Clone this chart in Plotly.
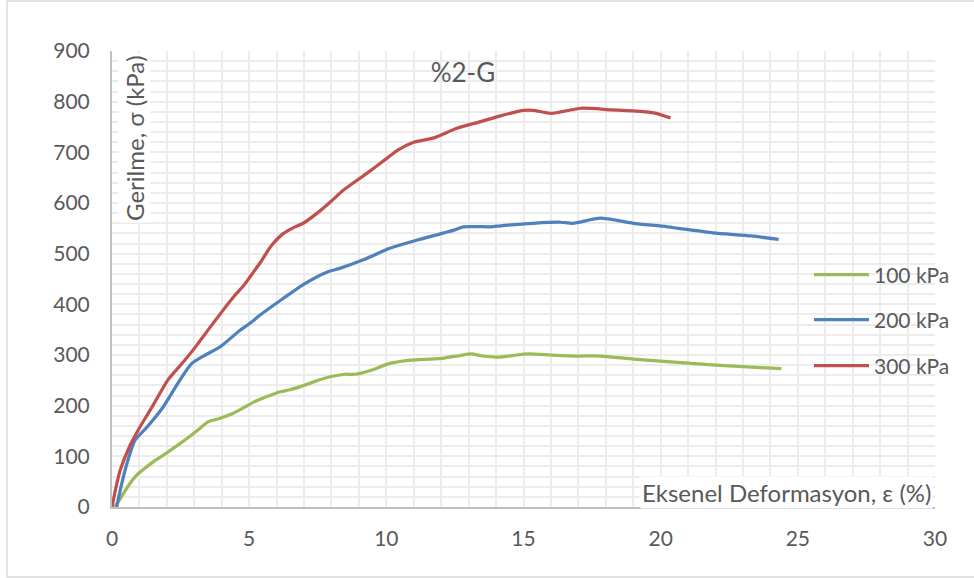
import plotly.graph_objects as go

# Axial strain (%) and deviator stress (kPa) for each confining pressure
strain_100 = [0.1, 0.3, 0.5, 0.66, 0.85, 1.0, 1.28, 1.6, 2.0, 2.4, 2.85, 3.2, 3.5, 3.94, 4.42,
              4.8, 5.2, 5.6, 6.1, 6.45, 6.9, 7.35, 7.95, 8.5, 8.85, 9.4, 10.1, 10.9, 11.6,
              12.1, 12.6, 13.1, 13.5, 14.1, 14.6, 15.2, 16.0, 17.0, 17.8, 19.0, 20.0, 21.0,
              22.0, 23.0, 24.4]
stress_100 = [0, 16, 34, 47, 60, 68, 80, 93, 107, 122, 140, 155, 168, 175, 185,
              196, 208, 217, 227, 231, 238, 247, 257, 262, 262, 269, 283, 290, 292,
              294, 298, 302, 298, 296, 299, 302, 300, 298, 298, 292, 288, 284,
              280, 277, 273]

strain_200 = [0.17, 0.35, 0.55, 0.84, 1.28, 1.86, 2.48, 2.9, 3.4, 3.94, 4.67, 5.04, 5.4,
              6.25, 7.0, 7.85, 8.3, 9.16, 10.15, 11.13, 12.1, 12.5, 12.8, 13.8, 14.16,
              15.36, 16.35, 16.8, 17.8, 19.0, 20.25, 21.9, 23.3, 24.3]
stress_200 = [0, 45, 87, 132, 158, 197, 251, 283, 300, 316, 349, 363, 379,
              412, 440, 464, 471, 488, 511, 527, 541, 547, 553, 553, 555,
              560, 562, 560, 570, 560, 553, 541, 535, 528]

strain_300 = [0, 0.15, 0.3, 0.66, 1.02, 1.5, 2.04, 2.66, 3.1, 3.58, 4.42, 4.8, 5.04, 5.4,
              5.8, 6.25, 6.6, 6.97, 7.48, 7.96, 8.43, 9.3, 10.04, 10.4, 11.0, 11.7, 12.6,
              13.4, 14.16, 15.0, 15.36, 16.0, 17.1, 18.2, 19.27, 19.75, 20.36]
stress_300 = [0, 40, 73, 122, 158, 201, 251, 290, 320, 355, 414, 437, 455, 482,
              515, 540, 551, 560, 580, 602, 625, 659, 689, 704, 720, 728, 748,
              760, 772, 783, 783, 777, 787, 784, 781, 778, 768]

series_names = ["100 kPa", "200 kPa", "300 kPa"]
series_colors = ["#9BBB59", "#4F81BD", "#C0504D"]

FONT = "Lato"
TXT = "#595959"
GRID = "#ececec"

W, H = 974, 578
L, R, T, B = 112, 39, 51, 71
PW, PH = W - L - R, H - T - B

fig = go.Figure()
data = [(strain_100, stress_100), (strain_200, stress_200), (strain_300, stress_300)]
legend_ids = ["legend", "legend2", "legend3"]
for (xs, ys), name, color, lg in zip(data, series_names, series_colors, legend_ids):
    fig.add_trace(go.Scatter(
        x=xs, y=ys, name=name, mode="lines", showlegend=True,
        line=dict(color=color, width=3.25, shape="spline", smoothing=0.6),
        legend=lg,
    ))


def px_x(px):
    return (px - L) / PW


def px_y(py):
    return (H - B - py) / PH


legend_common = dict(
    font=dict(family=FONT, size=21, color=TXT),
    bgcolor="rgba(0,0,0,0)", borderwidth=0,
    xanchor="left", yanchor="middle", itemwidth=55,
)

fig.update_layout(
    width=W, height=H,
    margin=dict(l=L, r=R, t=T, b=B),
    paper_bgcolor="white", plot_bgcolor="white",
    showlegend=True,
    font=dict(family=FONT, color=TXT),
    title=dict(text="%2-G", x=463 / W, y=1 - 73 / H, xref="container", yref="container",
               xanchor="center", yanchor="middle",
               font=dict(family=FONT, size=26, color=TXT)),
    legend=dict(x=px_x(809), y=px_y(275), **legend_common),
    legend2=dict(x=px_x(809), y=px_y(320), **legend_common),
    legend3=dict(x=px_x(809), y=px_y(366), **legend_common),
    xaxis=dict(
        range=[0, 30], tickmode="linear", tick0=0, dtick=5,
        showgrid=True, gridcolor=GRID, gridwidth=2,
        minor=dict(tickmode="linear", dtick=1, showgrid=True, gridcolor=GRID, gridwidth=2),
        showline=True, linecolor="#bfbfbf", linewidth=2,
        zeroline=False, ticks="", ticklabelstandoff=12,
        tickfont=dict(family=FONT, size=21, color=TXT),
    ),
    yaxis=dict(
        range=[0, 900], tickmode="linear", tick0=0, dtick=100,
        showgrid=True, gridcolor=GRID, gridwidth=2,
        minor=dict(tickmode="linear", dtick=20, showgrid=True, gridcolor=GRID, gridwidth=2),
        showline=True, linecolor="#bfbfbf", linewidth=2,
        zeroline=False, ticks="", ticklabelstandoff=16,
        tickfont=dict(family=FONT, size=21, color=TXT),
    ),
)

# Axis titles placed inside the plotting area
fig.add_annotation(
    text="Gerilme, σ (kPa)", textangle=-90,
    xref="paper", yref="paper", x=px_x(134), y=px_y(138),
    xanchor="center", yanchor="middle", showarrow=False,
    bgcolor="white", font=dict(family=FONT, size=24, color=TXT),
)
fig.add_annotation(
    text="Eksenel Deformasyon, ε (%)",
    xref="paper", yref="paper", x=px_x(786), y=px_y(492),
    xanchor="center", yanchor="middle", showarrow=False,
    bgcolor="white", font=dict(family=FONT, size=24, color=TXT),
)

# Chart frame
fig.add_shape(
    type="rect", xref="paper", yref="paper",
    x0=px_x(7), x1=px_x(980), y0=px_y(577), y1=px_y(1),
    line=dict(color="#d9d9d9", width=1.5), fillcolor="rgba(0,0,0,0)", layer="below",
)

fig.write_html("out.html")
